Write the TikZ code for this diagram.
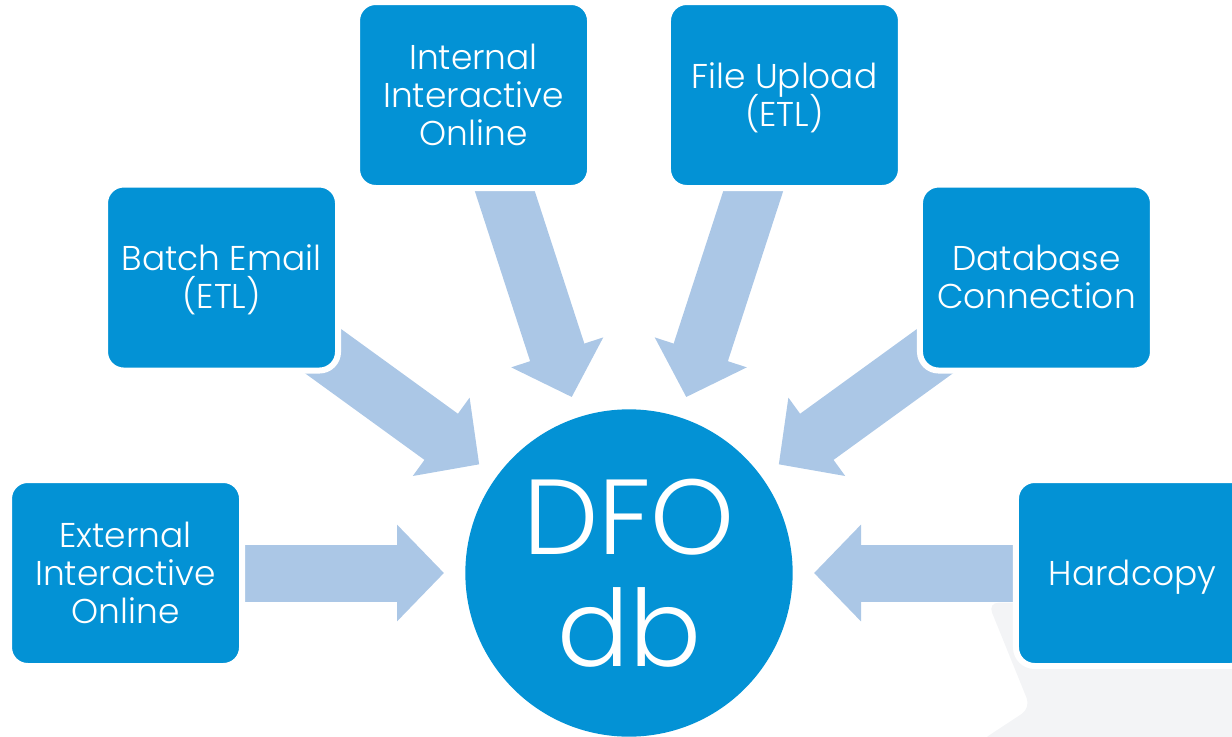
\documentclass[tikz,border=0pt]{standalone}
\usepackage{fontspec}
\setmainfont{Poppins}[UprightFont=* Light]
\usetikzlibrary{arrows.meta,positioning,backgrounds}
\definecolor{dfoblue}{HTML}{0392D5}
\definecolor{flowblue}{HTML}{ABC7E6}
\definecolor{cornergrey}{HTML}{F3F4F6}
\newcommand{\linestrut}{\rule[-8pt]{0pt}{34pt}}
\setlength{\lineskiplimit}{-20pt}

\begin{document}
\begin{tikzpicture}[on grid,
    source node/.style={rectangle,rounded corners=14pt,fill=dfoblue,draw=white,line width=4.5pt,
        minimum width=174.75pt,minimum height=139.5pt,outer sep=0pt,inner sep=0pt,
        align=center,text=white,font=\fontsize{25.8}{28.5}\selectfont},
    main node/.style={circle,fill=dfoblue,minimum width=245.5pt,inner sep=0pt,
        align=center,text=white,font=\fontsize{80}{84}\selectfont},
    flow/.style={-{Triangle[length=35.25pt,width=70.5pt]},color=flowblue,line width=42.75pt,shorten >=138.75pt}]

    \useasboundingbox (0,0) rectangle (924pt,-552pt);

    \node[main node] (dfo) at (471.75pt,-429.75pt) {DFO\\db};

    \node[source node] (external) [left=377.6pt of dfo] {\linestrut External\\\linestrut Interactive\\\linestrut Online};
    \node[source node] (hardcopy) [right=377.6pt of dfo] {\linestrut Hardcopy};
    \node[source node] (batch) [above left=221.6pt and 305.6pt of dfo] {\linestrut Batch Email\\\linestrut (ETL)};
    \node[source node] (database) [above right=221.6pt and 305.6pt of dfo] {\linestrut Database\\\linestrut Connection};
    \node[source node] (internal) [above left=358.5pt and 116.6pt of dfo] {\linestrut Internal\\\linestrut Interactive\\\linestrut Online};
    \node[source node] (upload) [above right=358.5pt and 116.6pt of dfo] {\linestrut File Upload\\\linestrut (ETL)};

    \begin{scope}[on background layer]
        \fill[cornergrey,rounded corners=8pt] (741pt,-452pt) -- (773pt,-531pt) -- (735pt,-556pt)
            -- (930pt,-556pt) -- (930pt,-452pt) -- cycle;

        \path[flow] (external.center) edge (dfo.center);
        \path[flow] (hardcopy.center) edge (dfo.center);
        \path[flow] (batch.center) edge (dfo.center);
        \path[flow] (database.center) edge (dfo.center);
        \path[flow] (internal.center) edge (dfo.center);
        \path[flow] (upload.center) edge (dfo.center);
    \end{scope}
\end{tikzpicture}
\end{document}
